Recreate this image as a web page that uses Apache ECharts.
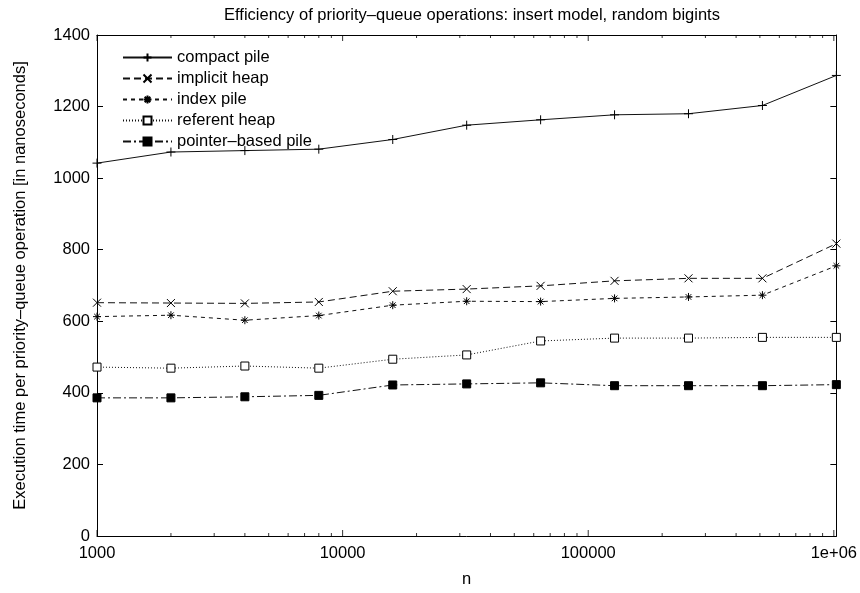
<!DOCTYPE html>
<html>
<head>
<meta charset="utf-8">
<script src="https://cdn.jsdelivr.net/npm/echarts@6/dist/echarts.min.js"></script>
<style>html,body{margin:0;padding:0;background:#fff}#c{width:860px;height:593px}</style>
</head>
<body>
<div id="c"></div>
<script>
var nValues = [1000, 2000, 4000, 8000, 16000, 32000, 64000, 128000, 256000, 512000, 1024000];
var compactPile = [1042, 1073, 1077, 1081, 1108, 1148, 1163, 1177, 1180, 1203, 1287];
var implicitHeap = [652, 651, 650, 654, 684, 690, 699, 713, 720, 720, 817];
var indexPile = [613, 617, 603, 616, 645, 656, 655, 664, 668, 673, 755];
var referentHeap = [472, 469, 475, 469, 494, 506, 545, 553, 553, 555, 555];
var pointerPile = [386, 386, 389, 393, 422, 425, 428, 420, 420, 420, 423];
var seriesNames = ['compact pile', 'implicit heap', 'index pile', 'referent heap', 'pointer\u2013based pile'];
var xMajorTicks = [1000, 10000, 100000, 1000000];
var xMinorTicks = [2000, 3000, 4000, 5000, 6000, 7000, 8000, 9000,
                   20000, 30000, 40000, 50000, 60000, 70000, 80000, 90000,
                   200000, 300000, 400000, 500000, 600000, 700000, 800000, 900000];
var yRange = [0, 1400];

var FONT = 'Liberation Sans, Arial, Helvetica, sans-serif';
var FS = 16.5;
var X_MIN = nValues[0], X_MAX = nValues[nValues.length - 1];
function pairs(ys){ return nValues.map(function(x,i){ return [x, ys[i]]; }); }

var PLUS = 'path://M0,5L10,5M5,0L5,10';
var CROSS = 'path://M0,0L10,10M10,0L0,10';
var STAR = 'path://M0,5L10,5M5,0L5,10M1.5,1.5L8.5,8.5M8.5,1.5L1.5,8.5';

function mkSeries(name, ys, symbol, dash, fill, size){
  return {
    name: name, type: 'line', xAxisIndex: 0, yAxisIndex: 0,
    data: pairs(ys), symbol: symbol, symbolSize: size, showSymbol: true,
    animation: false,
    lineStyle: {color: '#111', width: 1, type: dash},
    itemStyle: {color: fill, borderColor: '#000', borderWidth: 1},
    emphasis: {disabled: true}
  };
}

// tick marks on the log x axis (bottom and mirrored top), placed via the axis scale
function tickSeries(xs, yv, len, up){
  return {
    type: 'scatter', xAxisIndex: 0, yAxisIndex: 0, silent: true, clip: false,
    animation: false, legendHoverLink: false,
    data: xs.map(function(x){ return [x, yv]; }),
    symbol: 'rect', symbolSize: [1, len], symbolOffset: [0, up ? -len/2 : len/2],
    itemStyle: {color: '#000'}, z: 5, emphasis: {disabled: true}, tooltip: {show: false}
  };
}

var option = {
  backgroundColor: '#fff',
  animation: false,
  title: {
    text: 'Efficiency of priority\u2013queue operations: insert model, random bigints',
    left: 467, top: 2, textAlign: 'center',
    textStyle: {fontFamily: FONT, fontSize: FS, fontWeight: 'normal', color: '#000'}
  },
  grid: {left: 97, right: 23, top: 35, bottom: 54, containLabel: false},
  legend: {
    orient: 'vertical', left: 117, top: 43,
    itemWidth: 49, itemHeight: 10, itemGap: 2,
    data: seriesNames,
    textStyle: {fontFamily: FONT, fontSize: FS, color: '#000', lineHeight: 19, padding: [0,0,0,0]}
  },
  xAxis: [
    {
      type: 'log', logBase: 10, min: X_MIN, max: X_MAX, position: 'bottom',
      name: 'n', nameLocation: 'middle', nameGap: 35,
      nameTextStyle: {fontFamily: FONT, fontSize: FS, color: '#000'},
      axisLine: {show: true, onZero: false, lineStyle: {color: '#000', width: 1}},
      axisTick: {show: false},
      axisLabel: {show: true, margin: 9, fontFamily: FONT, fontSize: FS, color: '#000',
        formatter: function(v){
          var e = Math.log10(v);
          if (Math.abs(e - Math.round(e)) > 1e-6) return '';
          return v >= 999999 ? '1e+06' : String(Math.round(v));
        }},
      splitLine: {show: false}, minorTick: {show: false}
    },
    {
      type: 'log', logBase: 10, min: X_MIN, max: X_MAX, position: 'top',
      axisLine: {show: true, onZero: false, lineStyle: {color: '#000', width: 1}},
      axisTick: {show: false}, axisLabel: {show: false},
      splitLine: {show: false}, minorTick: {show: false}
    }
  ],
  yAxis: [
    {
      type: 'value', min: yRange[0], max: yRange[1], interval: 200, position: 'left',
      name: 'Execution time per priority\u2013queue operation [in nanoseconds]',
      nameLocation: 'middle', nameGap: 68,
      nameTextStyle: {fontFamily: FONT, fontSize: FS, color: '#000'},
      axisLine: {show: true, onZero: false, lineStyle: {color: '#000', width: 1}},
      axisTick: {show: true, inside: true, length: 6, lineStyle: {color: '#000'}},
      axisLabel: {margin: 7, fontFamily: FONT, fontSize: FS, color: '#000',
        formatter: function(v){ return String(v); }},
      splitLine: {show: false}
    },
    {
      type: 'value', min: yRange[0], max: yRange[1], interval: 200, position: 'right',
      axisLine: {show: true, onZero: false, lineStyle: {color: '#000', width: 1}},
      axisTick: {show: true, inside: true, length: 6, lineStyle: {color: '#000'}},
      axisLabel: {show: false},
      splitLine: {show: false}
    }
  ],
  series: [
    mkSeries(seriesNames[0], compactPile, PLUS, 'solid', 'none', 9),
    mkSeries(seriesNames[1], implicitHeap, CROSS, [7,4], 'none', 8),
    mkSeries(seriesNames[2], indexPile, STAR, [4,4], 'none', 8),
    mkSeries(seriesNames[3], referentHeap, 'rect', [1,2], '#fff', 8),
    mkSeries(seriesNames[4], pointerPile, 'rect', [8,3,2,3], '#000', 8),
    tickSeries(xMajorTicks, yRange[0], 6, true),
    tickSeries(xMinorTicks, yRange[0], 3, true),
    tickSeries(xMajorTicks, yRange[1], 6, false),
    tickSeries(xMinorTicks, yRange[1], 3, false)
  ]
};
var chart = echarts.init(document.getElementById('c'), null, {renderer: 'canvas'});
chart.setOption(option);
</script>
</body>
</html>
